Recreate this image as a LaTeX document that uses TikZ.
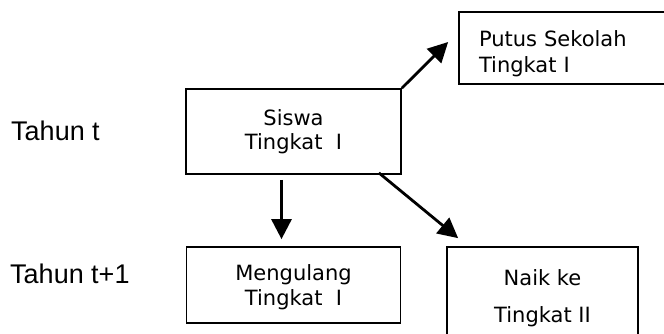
\documentclass[tikz,border=0pt]{standalone}
\usepackage{fontspec}
\usepackage{tikz}
\usetikzlibrary{arrows.meta}
\newfontfamily\boxfont{DejaVu Sans}
\newfontfamily\sidefont{Liberation Sans}

\begin{document}
\begin{tikzpicture}[x=1pt, y=-1pt,
	box/.style={draw, line width=1.7pt, align=center, inner sep=0pt, font=\boxfont\fontsize{21}{24}\selectfont},
	side/.style={anchor=base west, inner sep=0pt, font=\sidefont\fontsize{27}{30}\selectfont},
	arr/.style={-{Triangle[length=20pt,width=20pt]}, line width=2.8pt}]

\useasboundingbox (0,0) rectangle (664,334);

% Year labels
\node[side] (tahun) at (11,141) {Tahun t};
\node[side] (tahunnext) at (10,283) {Tahun t+1};

% Boxes
\node[box, minimum width=215pt, minimum height=85pt] (siswa) at (293.5,131.5) {Siswa\\Tingkat~~I};
\node[box, minimum width=221pt, minimum height=72pt, align=left, text width=181pt, inner xsep=20pt,
	font=\boxfont\fontsize{21}{26}\selectfont] (putus) at (569.5,48) {\rule{0pt}{27pt}Putus Sekolah\\Tingkat I};
\node[box, minimum width=214pt, minimum height=76pt, font=\boxfont\fontsize{21}{25}\selectfont] (ulang) at (293.5,285) {\rule{0pt}{20pt}Mengulang\\Tingkat~~I};
\node[box, minimum width=191pt, minimum height=96pt,
	font=\boxfont\fontsize{21}{37}\selectfont] (naik) at (542.5,295) {\rule{0pt}{22pt}Naik ke\\Tingkat II};

% Arrows between the boxes
\draw[arr] (siswa.north east) -- ([xshift=-10pt,yshift=6pt]putus.west);
\draw[arr] ([xshift=-12pt,yshift=-5pt]siswa.south) -- ([xshift=-12pt,yshift=7pt]ulang.north);
\draw[arr] ([xshift=-23pt,yshift=2pt]siswa.south east) -- ([xshift=12pt,yshift=8pt]naik.north west);

\end{tikzpicture}
\end{document}
